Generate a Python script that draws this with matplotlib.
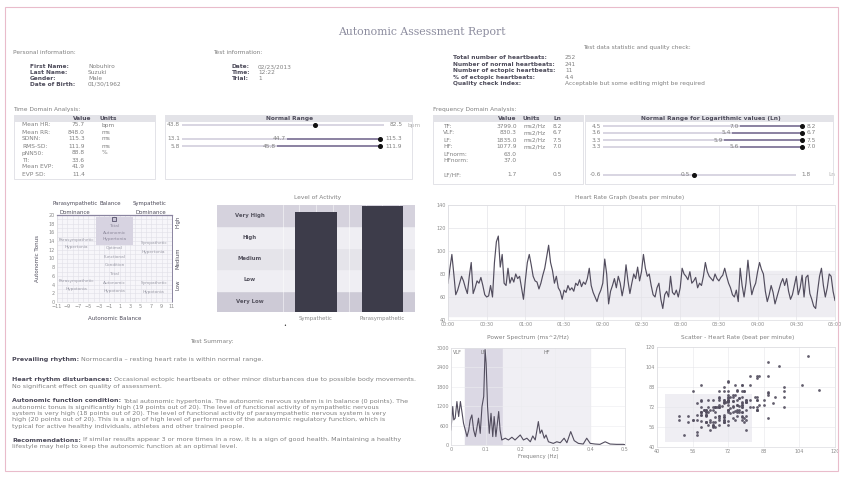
"""Autonomic assessment report page, redrawn with matplotlib."""

import matplotlib

matplotlib.use("Agg")
import matplotlib.pyplot as plt
import numpy as np
from matplotlib.patches import Rectangle

W, H = 845, 479

# ---------------- data ----------------
personal_labels = ["First Name:", "Last Name:", "Gender:", "Date of Birth:"]
personal_values = ["Nobuhiro", "Suzuki", "Male", "01/30/1962"]
test_labels = ["Date:", "Time:", "Trial:"]
test_values = ["02/23/2013", "12:22", "1"]
stat_labels = ["Total number of heartbeats:", "Number of normal heartbeats:",
               "Number of ectopic heartbeats:", "% of ectopic heartbeats:",
               "Quality check index:"]
stat_values = ["252", "241", "11", "4.4", "Acceptable but some editing might be required"]

td_labels = ["Mean HR:", "Mean RR:", "SDNN:", "RMS-SD:", "pNN50:", "TI:", "Mean EVP:", "EVP SD:"]
td_values = ["75.7", "848.0", "115.3", "111.9", "88.8", "33.6", "41.9", "11.4"]
td_units = ["bpm", "ms", "ms", "ms", "%", "", "", ""]

# normal range bars, positions in % of the bar length
td_range_rows = [0, 2, 3]
td_range_low = ["43.8", "13.1", "5.8"]
td_range_mid = ["", "44.7", "45.8"]
td_range_high = ["82.5", "115.3", "111.9"]
td_range_unit = ["bpm", "", ""]
td_range_split = [None, 53, 48]
td_range_dot = [67, 100, 100]
td_range_end = [102, 100, 100]

fd_labels = ["TF:", "VLF:", "LF:", "HF:", "LFnorm:", "HFnorm:", "LF/HF:"]
fd_rows = [0, 1, 2, 3, 4, 5, 7]
fd_values = ["3799.0", "830.3", "1835.0", "1077.9", "63.0", "37.0", "1.7"]
fd_units = ["ms2/Hz", "ms2/Hz", "ms2/Hz", "ms2/Hz", "", "", ""]
fd_ln = ["8.2", "6.7", "7.5", "7.0", "", "", "0.5"]

fd_range_rows = [0, 1, 2, 3, 7]
fd_range_low = ["4.5", "3.6", "3.3", "3.3", "-0.6"]
fd_range_mid = ["7.0", "5.4", "5.9", "5.6", "0.5"]
fd_range_high = ["8.2", "6.7", "7.5", "7.0", "1.8"]
fd_range_unit = ["", "", "", "", "Ln"]
fd_range_split = [69, 65, 61, 69, None]
fd_range_dot = [100, 100, 100, 100, 46]
fd_range_end = [100, 100, 100, 100, 97]

# autonomic balance matrix
balance_point = (0, 19)
zone_x = [-7.2, -7.2, 0, 0, 0, 7.5, 7.5, -7.2, -7.2, 0, 0, 0, 7.5, 7.5]
zone_y = [14.3, 12.6, 12.4, 10.3, 8.5, 13.6, 11.5, 4.8, 3.0, 6.4, 4.4, 2.5, 4.4, 2.3]
zone_text = ["Parasympathetic", "Hypertonia", "Optimal", "Functional", "Condition",
             "Sympathetic", "Hypertonia", "Parasympathetic", "Hypotonia",
             "Total", "Autonomic", "Hypotonia", "Sympathetic", "Hypotonia"]
top_zone_y = [17.4, 15.9, 14.4]
top_zone_text = ["Total", "Autonomic", "Hypertonia"]

# level of activity
activity_rows = ["Very Low", "Low", "Medium", "High", "Very High"]
activity_names = ["Sympathetic", "Parasympathetic"]
activity_levels = [4.65, 4.95]

# heart rate, one value every 1.5 s
hr_step = 1.5
hr = [72, 85, 97, 80, 62, 66, 72, 78, 74, 68, 63, 78, 90, 63, 68, 74, 72, 77, 70, 62,
      60, 61, 70, 60, 90, 108, 113, 86, 97, 72, 70, 85, 72, 77, 73, 80, 76, 78, 68, 58,
      75, 90, 97, 88, 78, 74, 73, 67, 72, 79, 85, 95, 105, 90, 83, 72, 78, 68, 65, 58,
      66, 64, 70, 66, 68, 65, 72, 70, 75, 69, 73, 71, 76, 85, 70, 64, 60, 56, 62, 66,
      72, 93, 80, 54, 65, 70, 76, 68, 78, 72, 61, 70, 88, 74, 63, 72, 80, 76, 86, 74,
      82, 97, 85, 78, 80, 70, 62, 60, 68, 72, 58, 50, 62, 65, 60, 78, 64, 62, 66, 60,
      68, 85, 80, 78, 75, 82, 72, 74, 77, 68, 72, 70, 78, 90, 82, 78, 76, 74, 80, 76,
      74, 77, 79, 85, 78, 72, 68, 62, 60, 66, 56, 85, 70, 60, 72, 92, 75, 62, 68, 72,
      82, 90, 84, 80, 65, 56, 62, 70, 64, 54, 60, 66, 72, 76, 70, 76, 65, 58, 62, 70,
      78, 62, 68, 79, 60, 77, 79, 63, 58, 52, 50, 65, 78, 85, 70, 60, 68, 80, 78, 65, 57]
hr_normal = (43.8, 82.5)

# power spectrum
ps_freq = [0.0, 0.005, 0.008, 0.012, 0.017, 0.022, 0.027, 0.032, 0.036, 0.041, 0.046,
           0.051, 0.055, 0.06, 0.065, 0.07, 0.075, 0.079, 0.084, 0.089, 0.094, 0.098,
           0.101, 0.105, 0.11, 0.115, 0.12, 0.124, 0.129, 0.137, 0.141, 0.146, 0.156,
           0.165, 0.175, 0.184, 0.199, 0.208, 0.218, 0.228, 0.235, 0.242, 0.247, 0.251,
           0.256, 0.261, 0.268, 0.273, 0.28, 0.294, 0.304, 0.314, 0.325, 0.333, 0.344,
           0.354, 0.366, 0.38, 0.39, 0.4, 0.414, 0.428, 0.443, 0.457, 0.476, 0.495, 0.5]
ps_power = [465, 1190, 775, 830, 1345, 880, 1345, 980, 670, 465, 260, 465, 775, 930, 465,
            260, 570, 830, 360, 1190, 1500, 2950, 2530, 1190, 360, 980, 260, 880, 260,
            1035, 465, 155, 210, 155, 240, 155, 310, 155, 210, 100, 280, 155, 465, 725,
            360, 465, 210, 310, 100, 50, 100, 70, 210, 70, 415, 135, 50, 30, 210, 50, 30,
            20, 100, 30, 20, 20, 10]
ps_bands = [("VLF", 0.0, 0.04), ("LF", 0.04, 0.15), ("HF", 0.15, 0.4)]

summary = [
    ("Prevailing rhythm:", ["Normocardia \u2013 resting heart rate is within normal range."]),
    ("Heart rhythm disturbances:", [
        "Occasional ectopic heartbeats or other minor disturbances due to possible body movements.",
        "No significant effect on quality of assessment."]),
    ("Autonomic function condition:", [
        "Total autonomic hypertonia. The autonomic nervous system is in balance (0 points). The",
        "autonomic tonus is significantly high (19 points out of 20). The level of functional activity of sympathetic nervous",
        "system is very high (18 points out of 20). The level of functional activity of parasympathetic nervous system is very",
        "high (20 points out of 20). This is a sign of high level of performance of the autonomic regulatory function, which is",
        "typical for active healthy individuals, athletes and other trained people."]),
    ("Recommendations:", [
        "If similar results appear 3 or more times in a row, it is a sign of good health. Maintaining a healthy",
        "lifestyle may help to keep the autonomic function at an optimal level."]),
]
summary_top = [359, 380, 401, 440]

# ---------------- drawing ----------------
plt.rcParams["font.family"] = ["DejaVu Sans"]
fig = plt.figure(figsize=(W / 100, H / 100), dpi=100)
fig.patch.set_facecolor("white")
renderer = fig.canvas.get_renderer()

GRAY = "#808080"
DARK = "#4d4b5a"
LINE = "#524d5e"
FS = 4.2


def txt(x, y, s, size=FS, color=GRAY, weight="normal", ha="left", **kw):
    return fig.text(x / W, 1 - y / H, s, size=size, color=color, weight=weight,
                    ha=ha, va="center", **kw)


def box(x0, y0, x1, y1, fc="none", ec="#d8d8de", lw=0.5):
    fig.patches.append(Rectangle((x0 / W, 1 - y1 / H), (x1 - x0) / W, (y1 - y0) / H,
                                 transform=fig.transFigure, facecolor=fc,
                                 edgecolor=ec, linewidth=lw))


def axes_px(x0, y0, x1, y1):
    return fig.add_axes([x0 / W, 1 - y1 / H, (x1 - x0) / W, (y1 - y0) / H])


def style_plot(ax):
    ax.tick_params(labelsize=3.5, colors="#8a8a8a", length=0, pad=1.5)
    for sp in ax.spines.values():
        sp.set_color("#dcdce0")
        sp.set_linewidth(0.5)


# page frame and title
box(5, 7, 838, 471, ec="#e9bccb", lw=0.8)
txt(422, 32, "Autonomic Assessment Report", size=7.8, color="#8c8c9e",
    ha="center", family="DejaVu Serif")

# header blocks
txt(13, 52, "Personal information:")
for i, (lab, val) in enumerate(zip(personal_labels, personal_values)):
    txt(30, 67 + 5.8 * i, lab, color=DARK, weight="bold")
    txt(88, 67 + 5.8 * i, val)
txt(213, 52, "Test information:")
for i, (lab, val) in enumerate(zip(test_labels, test_values)):
    txt(232, 67 + 5.8 * i, lab, color=DARK, weight="bold")
    txt(258, 67 + 5.8 * i, val)
txt(637, 48, "Test data statistic and quality check:", ha="center")
for i, (lab, val) in enumerate(zip(stat_labels, stat_values)):
    txt(453, 57.5 + 6.6 * i, lab, color=DARK, weight="bold")
    txt(565, 57.5 + 6.6 * i, val)

# time domain table
txt(13, 110, "Time Domain Analysis:")
box(14, 115, 155, 179)
box(165, 115, 412, 179)
box(14, 115, 155, 121.5, fc="#e3e3e8", ec="none")
box(165, 115, 412, 121.5, fc="#e3e3e8", ec="none")
txt(82, 118.5, "Value", color=DARK, weight="bold", ha="center")
txt(108, 118.5, "Units", color=DARK, weight="bold", ha="center")
txt(290, 118.5, "Normal Range", color=DARK, weight="bold", ha="center")
for i, (lab, val, unit) in enumerate(zip(td_labels, td_values, td_units)):
    y = 125 + 7 * i
    txt(22, y, lab)
    txt(85, y, val, ha="right")
    txt(102, y, unit)

# frequency domain table
txt(433, 110, "Frequency Domain Analysis:")
box(433, 115, 583, 184)
box(585, 115, 833, 184)
box(433, 115, 583, 121.5, fc="#e3e3e8", ec="none")
box(585, 115, 833, 121.5, fc="#e3e3e8", ec="none")
txt(507, 118.5, "Value", color=DARK, weight="bold", ha="center")
txt(531, 118.5, "Units", color=DARK, weight="bold", ha="center")
txt(557, 118.5, "Ln", color=DARK, weight="bold", ha="center")
txt(711, 118.5, "Normal Range for Logarithmic values (Ln)", color=DARK, weight="bold",
    ha="center")
for lab, row, val, unit, ln in zip(fd_labels, fd_rows, fd_values, fd_units, fd_ln):
    y = 126 + 7 * row
    txt(443, y, lab)
    txt(517, y, val, ha="right")
    txt(523, y, unit)
    txt(557, y, ln, ha="center")


def range_panel(ax, rows, low, mid, high, unit, split, dot, end):
    for r, lo, mi, hi, un, sp, d, e in zip(rows, low, mid, high, unit, split, dot, end):
        ax.barh(r, e, left=0, height=0.42, color="#d9d6e2")
        if sp is not None:
            ax.barh(r, d - sp, left=sp, height=0.42, color="#8d84a3")
            ax.text(sp - 0.5, r, mi, ha="right", va="center", size=FS, color=GRAY)
        else:
            ax.text(d - 2, r, mi, ha="right", va="center", size=FS, color=GRAY)
        ax.plot(d, r, "o", ms=2.6, color="#111111")
        ax.text(-1, r, lo, ha="right", va="center", size=FS, color=GRAY)
        ax.text(e + 2.5, r, hi, ha="left", va="center", size=FS, color=GRAY)
        ax.text(113.5, r, un, ha="left", va="center", size=FS, color="#b0b0b0")
    ax.set_facecolor("none")
    ax.axis("off")


ax_td = axes_px(165, 113, 412, 180)
ax_td.set_xlim(-8.6, 116)
ax_td.set_ylim((180 - 125) / 7, (113 - 125) / 7)
range_panel(ax_td, td_range_rows, td_range_low, td_range_mid, td_range_high,
            td_range_unit, td_range_split, td_range_dot, td_range_end)

ax_fd = axes_px(585, 113, 833, 185)
ax_fd.set_xlim(-9, 115.6)
ax_fd.set_ylim((185 - 126) / 7, (113 - 126) / 7)
range_panel(ax_fd, fd_range_rows, fd_range_low, fd_range_mid, fd_range_high,
            fd_range_unit, fd_range_split, fd_range_dot, fd_range_end)

# autonomic balance matrix
ax_b = axes_px(57, 215, 172, 302)
ax_b.set_facecolor("#f7f6fa")
ax_b.set_xlim(-11, 11)
ax_b.set_ylim(0, 20)
ax_b.set_xticks(range(-11, 12, 2))
ax_b.set_yticks(range(0, 21, 2))
ax_b.set_xticks(range(-11, 12), minor=True)
ax_b.set_yticks(range(0, 21), minor=True)
ax_b.grid(which="both", color="#e1e0e8", linewidth=0.4)
ax_b.set_axisbelow(True)
style_plot(ax_b)
ax_b.tick_params(which="minor", length=0)
ax_b.spines["top"].set_color("#8a84a0")
ax_b.spines["top"].set_linewidth(0.9)
ax_b.spines["right"].set_color("#8a84a0")
ax_b.spines["right"].set_linewidth(0.7)
ax_b.add_patch(Rectangle((-3.5, 13.2), 7, 6.3, facecolor="#d7d3e1", edgecolor="none",
                         zorder=1))
for x, y, s in zip(zone_x, zone_y, zone_text):
    ax_b.text(x, y, s, ha="center", va="center", size=3.1, color="#9a9aa6", zorder=2)
for y, s in zip(top_zone_y, top_zone_text):
    ax_b.text(0, y, s, ha="center", va="center", size=3.2, color="#8e8a9c", zorder=2)
ax_b.plot(*balance_point, "s", ms=3, mfc="#c9c4d6", mec="#55506a", mew=0.6, zorder=3)
ax_b.set_xlabel("Autonomic Balance", size=4, color=DARK, labelpad=5)
ax_b.set_ylabel("Autonomic Tonus", size=4, color=DARK, labelpad=6)
txt(75, 204, "Parasympathetic", color=DARK, size=3.9, ha="center")
txt(110, 204, "Balance", color=DARK, size=3.9, ha="center")
txt(150, 204, "Sympathetic", color=DARK, size=3.9, ha="center")
txt(75, 212, "Dominance", color=DARK, size=3.9, ha="center")
txt(151, 212, "Dominance", color=DARK, size=3.9, ha="center")
for lab, y in zip(["High", "Medium", "Low"], [222, 258, 285]):
    txt(178, y, lab, color=DARK, size=3.9, ha="center", rotation=90)

# level of activity
txt(318, 197, "Level of Activity", ha="center")
ax_a = axes_px(217, 205, 415, 312)
ax_a.set_xlim(-1.49, 1.49)
ax_a.set_ylim(0, 5)
band_colors = ["#cdcad6", "#efeef3", "#e5e4ea", "#efeef3", "#d5d2dd"]
for i, (name, col) in enumerate(zip(activity_rows, band_colors)):
    ax_a.axhspan(i, i + 1, color=col, zorder=0)
    ax_a.text(-1.0, i + 0.5, name, ha="center", va="center", size=3.9,
              weight="bold", color="#55535f")
for xv in np.arange(-0.5, 1.5, 0.25):
    ax_a.axvline(xv, color="#ffffff", linewidth=0.5, alpha=0.7, zorder=0.5)
ax_a.bar(range(len(activity_names)), activity_levels, width=0.63, color="#3d3c4a",
         zorder=2)
ax_a.set_xticks(range(len(activity_names)))
ax_a.set_xticklabels(activity_names)
ax_a.set_yticks([])
style_plot(ax_a)
ax_a.tick_params(labelsize=3.9, pad=3)
for sp in ax_a.spines.values():
    sp.set_visible(False)
txt(285, 325, "\u2022", size=3.5, color="#333333", ha="center")

# heart rate graph
txt(630, 197, "Heart Rate Graph (beats per minute)", ha="center")
ax_hr = axes_px(448, 205, 835, 320)
hr_t = np.arange(len(hr)) * hr_step
ax_hr.axhspan(*hr_normal, color="#eeedf2", zorder=0)
ax_hr.plot(hr_t, hr, color=LINE, linewidth=0.85, zorder=2)
ax_hr.set_xlim(0, 300)
ax_hr.set_ylim(40, 140)
ticks = np.arange(0, 301, 30)
ax_hr.set_xticks(ticks)
ax_hr.set_xticklabels([f"{int(t) // 60:02d}:{int(t) % 60:02d}" for t in ticks])
ax_hr.set_yticks(range(40, 141, 20))
ax_hr.grid(color="#e4e4e9", linewidth=0.5)
ax_hr.set_axisbelow(True)
style_plot(ax_hr)

# power spectrum
txt(528, 338, "Power Spectrum (ms^2/Hz)", ha="center")
ax_ps = axes_px(451, 348, 625, 445)
ax_ps.axvspan(0.04, 0.15, color="#dbd8e4", zorder=0)
ax_ps.axvspan(0.15, 0.4, color="#f0eff4", zorder=0)
for name, lo, hi in ps_bands:
    ax_ps.text(lo + 0.005 if name == "VLF" else (lo + hi) / 2 - 0.01, 2850, name,
               size=3.5, color="#777777", va="center", ha="left")
ax_ps.plot(ps_freq, ps_power, color=LINE, linewidth=0.8, zorder=2)
ax_ps.set_xlim(0, 0.5)
ax_ps.set_ylim(0, 3000)
ax_ps.set_xticks([0, 0.1, 0.2, 0.3, 0.4, 0.5])
ax_ps.set_xticklabels(["0", "0.1", "0.2", "0.3", "0.4", "0.5"])
ax_ps.set_yticks(range(0, 3001, 600))
ax_ps.grid(color="#ececf0", linewidth=0.4)
ax_ps.set_axisbelow(True)
style_plot(ax_ps)
ax_ps.set_xlabel("Frequency (Hz)", size=3.9, color=GRAY, labelpad=1.5)

# scatter (successive heart rates)
txt(738, 338, "Scatter - Heart Rate (beat per minute)", ha="center")
ax_sc = axes_px(657, 347, 835, 447)
ax_sc.add_patch(Rectangle((hr_normal[0], hr_normal[0]), hr_normal[1] - hr_normal[0],
                          hr_normal[1] - hr_normal[0], facecolor="#efeef3",
                          edgecolor="none", zorder=0))
ax_sc.scatter(hr[:-1], hr[1:], s=4, color=LINE, alpha=0.9, linewidths=0, zorder=2)
ax_sc.set_xlim(40, 120)
ax_sc.set_ylim(40, 120)
ax_sc.set_xticks(range(40, 121, 16))
ax_sc.set_yticks(range(40, 121, 16))
ax_sc.grid(color="#e6e6eb", linewidth=0.4)
ax_sc.set_axisbelow(True)
style_plot(ax_sc)

# test summary
txt(212, 342, "Test Summary:", ha="center")
for (head, lines), y in zip(summary, summary_top):
    t = txt(12, y, head, size=4.6, color=DARK, weight="bold")
    w = t.get_window_extent(renderer).width
    for j, line in enumerate(lines):
        txt(12 + (w + 2 if j == 0 else 0), y, line, size=4.6)
        y += 6.3

fig.savefig("out.png", dpi=100)
